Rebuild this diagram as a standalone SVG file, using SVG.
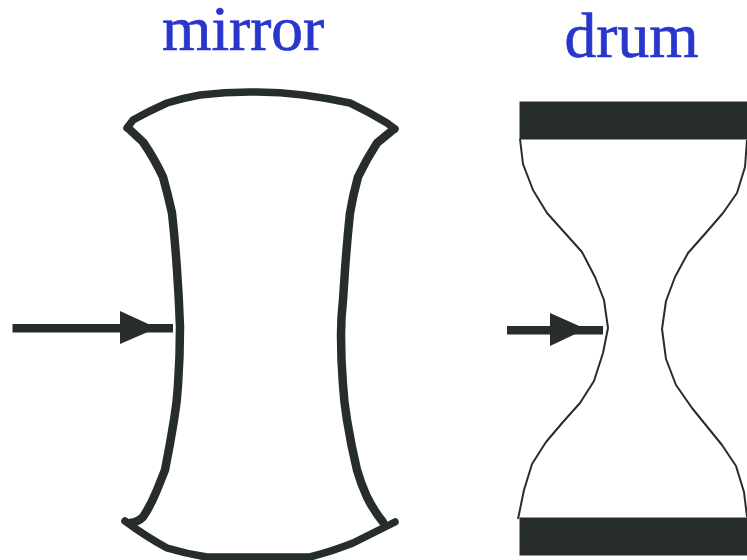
<svg xmlns="http://www.w3.org/2000/svg" width="747" height="560" viewBox="0 0 747 560">
<style>
.label{font-family:"Liberation Serif","Times New Roman",serif;font-size:63.5px;fill:#2836cc;stroke:#2836cc;stroke-width:.7}
.thick{fill:none;stroke:#272d2d;stroke-width:8.5;stroke-linecap:round;stroke-linejoin:round}
.arc{fill:none;stroke:#272d2d;stroke-width:7.5;stroke-linecap:round;stroke-linejoin:round}
.thin{fill:none;stroke:#272d2d;stroke-width:2;stroke-linejoin:round}
.solid{fill:#272d2d}
</style>
<rect width="747" height="560" fill="#ffffff"/>
<g id="mirror">
<text class="label" x="162" y="50">mirror</text>
<path class="arc" d="M127 128L133 120Q149 111 167 103Q183 98 200 95Q228 91.500 257 92Q280 92 303 95Q327 98 350 103Q369 112 387 123L395 129"/>
<path class="thick" d="M128 128L143 142Q154 158 163 177Q168 195 172 213Q175 240 177 270Q179 298 180 327Q180 356 178 385Q177 403 174 420Q170 445 165 470Q161 480 157 490Q151 505 143 517Q138 522 130 523"/>
<path class="thick" d="M394 129L377 143Q366 160 358 177Q353 195 350 213Q347 241 345 270Q344 285 343 300Q341 318 341 335Q341 360 343 385Q344 402 347 420Q351 445 357 470Q361 484 367 497Q374 511 383 522"/>
<path class="arc" d="M125 521Q145 536 167 548Q187 554 207 557L310 557Q333 551 353 543L395 522"/>
</g>
<g id="drum">
<text class="label" x="564.500" y="57">drum</text>
<rect class="solid" x="519.500" y="101.500" width="227.500" height="38"/>
<rect class="solid" x="519.500" y="517.500" width="227.500" height="38"/>
<path class="thin" d="M520 139L523 164L533 190L547 213L582 252L595 277L604 300L608 328L603 353L594 381L580 403L563 422L546 442L532 464L524 490L518 519"/>
<path class="thin" d="M747 140L745 167L737 193L723 213L704 235L688 253L675 277L666 301L662 329L666 359L676 385L692 408L722 445L736 466L744 492L747 517"/>
</g>
<g id="connectors">
<g id="arrow-mirror">
<rect class="solid" x="12.500" y="324" width="160.500" height="8.500"/>
<polygon class="solid" points="120,311 157,328 120,344"/>
</g>
<g id="arrow-drum">
<rect class="solid" x="507" y="326" width="96" height="8.500"/>
<polygon class="solid" points="550,313 586,329 550,346"/>
</g>
</g>
</svg>
